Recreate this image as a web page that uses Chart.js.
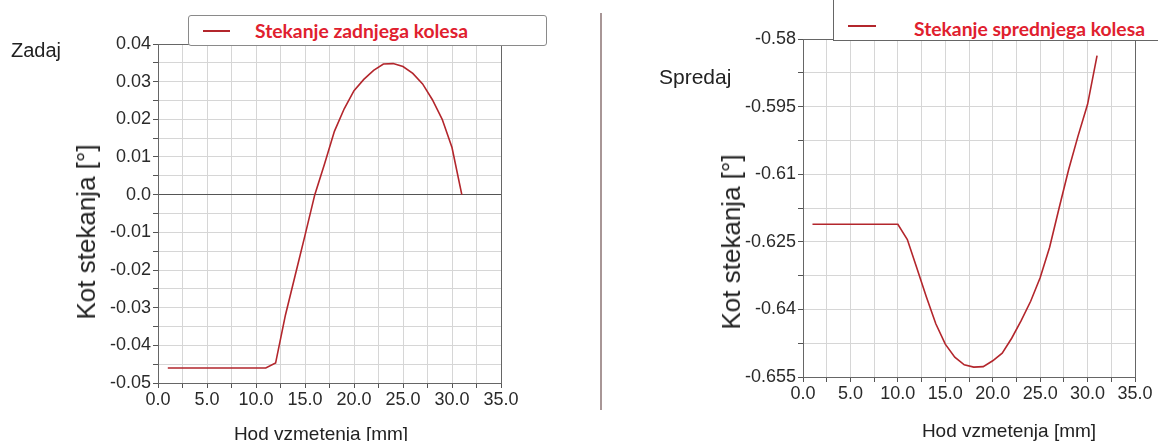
<!DOCTYPE html>
<html>
<head>
<meta charset="utf-8">
<script src="https://cdn.jsdelivr.net/npm/chart.js@4.4.0/dist/chart.umd.min.js"></script>
<style>
  body { margin: 0; background: #fff; width: 1158px; height: 441px; position: relative; overflow: hidden;
         font-family: "Liberation Sans", Arial, sans-serif; color: #222; }
  .box { position: absolute; }
  .note { position: absolute; white-space: nowrap; line-height: 1; }
  .ytitle { position: absolute; white-space: nowrap; font-size: 26px; line-height: 1;
            transform: translate(-50%, -50%) rotate(-90deg); }
  .xtitle { position: absolute; white-space: nowrap; font-size: 19px; line-height: 1;
            transform: translate(-50%, -50%); }
  .legend { position: absolute; background: #fff; border: 1px solid #8a8a8a; border-radius: 3px; }
  .legend .sample { position: absolute; height: 2px; background: #b3262c; }
  .legend .label { position: absolute; white-space: nowrap; font-family: Lato, "Open Sans", sans-serif;
                   font-weight: bold; font-size: 19.3px; color: #e0202e; line-height: 1; transform: translateY(-50%); }
  #divider { position: absolute; left: 600px; top: 13px; width: 2px; height: 397px; background: #a89696; }
</style>
</head>
<body>

<div class="box" style="left:0; top:0; width:600px; height:441px;"><canvas id="rearChart" width="600" height="441"></canvas></div>
<div class="box" style="left:600px; top:0; width:558px; height:441px;"><canvas id="frontChart" width="558" height="441"></canvas></div>

<div id="divider"></div>

<div class="note" style="left:11px; top:40px; font-size:20px;">Zadaj</div>
<div class="note" style="left:659px; top:66px; font-size:21px;">Spredaj</div>

<div class="ytitle" style="left:86px; top:232px;">Kot stekanja [°]</div>
<div class="ytitle" style="left:731px; top:242px;">Kot stekanja [°]</div>
<div class="xtitle" style="left:321px; top:433px;">Hod vzmetenja [mm]</div>
<div class="xtitle" style="left:1009px; top:430px;">Hod vzmetenja [mm]</div>

<div class="legend" style="left:188px; top:15px; width:357px; height:29px;">
  <div class="sample" style="left:14px; top:14px; width:27px;"></div>
  <div class="label" style="left:66px; top:15px;">Stekanje zadnjega kolesa</div>
</div>
<div class="legend" style="left:833px; top:-6px; width:400px; height:45px; border-color:#666; border-radius:0;">
  <div class="sample" style="left:14px; top:30px; width:28px;"></div>
  <div class="label" style="left:80px; top:34px;">Stekanje sprednjega kolesa</div>
</div>

<script>
// Hod vzmetenja [mm]
const travel = [1, 2, 3, 4, 5, 6, 7, 8, 9, 10, 11, 12, 13, 14, 15, 16,
                17, 18, 19, 20, 21, 22, 23, 24, 25, 26, 27, 28, 29, 30, 31];

// Zadaj - kot stekanja [°]
const rearToe = [-0.046, -0.046, -0.046, -0.046, -0.046, -0.046, -0.046, -0.046, -0.046, -0.046, -0.046,
                 -0.0447, -0.032, -0.0214, -0.0108, 0.0, 0.0082, 0.0168, 0.0228, 0.0276, 0.0306,
                 0.0330, 0.0347, 0.0348, 0.0340, 0.0322, 0.0294, 0.0252, 0.0200, 0.0125, 0.0];

// Spredaj - kot stekanja [°]
const frontToe = [-0.6211, -0.6211, -0.6211, -0.6211, -0.6211, -0.6211, -0.6211, -0.6211, -0.6211, -0.6211,
                  -0.6245, -0.6308, -0.6372, -0.6432, -0.6477, -0.6506, -0.6523, -0.6528, -0.6527, -0.6514,
                  -0.6497, -0.6464, -0.6425, -0.6382, -0.6330, -0.6262, -0.6175, -0.6090, -0.6015, -0.5945, -0.5837];

const rearLabel = 'Stekanje zadnjega kolesa';
const frontLabel = 'Stekanje sprednjega kolesa';

// osi
const xRange = { min: 0, max: 35, step: 2.5 };
const rearRange = { min: -0.05, max: 0.04, step: 0.005 };
const frontRange = { min: -0.655, max: -0.58, step: 0.0075 };

const lineColor = '#b3262c';
const gridColor = '#d6d6d6';
const axisColor = '#555';
const tickFont = { family: '"Liberation Sans", Arial, sans-serif', size: 18 };

// okvir okoli grafa
const frameBox = {
    id: 'frameBox',
    beforeDatasetsDraw(chart) {
        const a = chart.chartArea;
        const ctx = chart.ctx;
        ctx.save();
        ctx.strokeStyle = '#666';
        ctx.lineWidth = 1;
        ctx.strokeRect(Math.round(a.left) + 0.5, Math.round(a.top) + 0.5,
                       Math.round(a.right - a.left), Math.round(a.bottom - a.top));
        ctx.restore();
    }
};

function makeChart(canvasId, label, values, yRange, yLabel, pad) {
    const points = travel.map((x, i) => ({ x: x, y: values[i] }));
    return new Chart(document.getElementById(canvasId), {
        type: 'line',
        data: {
            datasets: [{
                label: label,
                data: points,
                borderColor: lineColor,
                borderWidth: 1.6,
                pointRadius: 0,
                tension: 0,
                fill: false
            }]
        },
        options: {
            responsive: false,
            animation: false,
            devicePixelRatio: 1,
            layout: { padding: pad },
            plugins: {
                legend: { display: false },
                tooltip: { enabled: false }
            },
            scales: {
                x: {
                    type: 'linear',
                    min: xRange.min,
                    max: xRange.max,
                    afterFit: (s) => { s.height = 30; },
                    border: { display: true, color: axisColor, width: 1 },
                    grid: { color: gridColor, tickColor: axisColor, tickLength: 5 },
                    ticks: {
                        stepSize: xRange.step,
                        autoSkip: false,
                        maxRotation: 0,
                        padding: 1,
                        color: '#2a2a2a',
                        font: tickFont,
                        callback: (v, i) => i % 2 ? '' : Number(v).toFixed(1)
                    }
                },
                y: {
                    type: 'linear',
                    min: yRange.min,
                    max: yRange.max,
                    afterFit: (s) => { s.width = 60; },
                    border: { display: true, color: axisColor, width: 1 },
                    grid: {
                        color: (c) => (c.tick && c.tick.value === 0) ? axisColor : gridColor,
                        tickColor: axisColor,
                        tickLength: 5
                    },
                    ticks: {
                        stepSize: yRange.step,
                        autoSkip: false,
                        padding: 2,
                        color: '#2a2a2a',
                        font: tickFont,
                        callback: (v, i) => i % 2 ? '' : yLabel(v)
                    }
                }
            }
        },
        plugins: [frameBox]
    });
}

makeChart('rearChart', rearLabel, rearToe, rearRange,
    (v) => v === 0 ? '0.0' : v.toFixed(2),
    { left: 98, right: 99, top: 44, bottom: 28 });

makeChart('frontChart', frontLabel, frontToe, frontRange,
    (v) => String(parseFloat(v.toFixed(3))),
    { left: 143, right: 23, top: 39, bottom: 34 });
</script>
</body>
</html>
